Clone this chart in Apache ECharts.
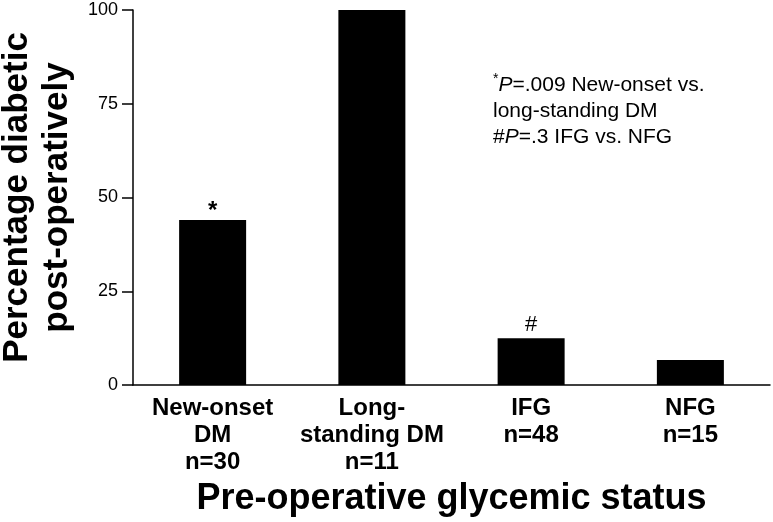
<!DOCTYPE html>
<html>
<head>
<meta charset="utf-8">
<script src="https://cdn.jsdelivr.net/npm/echarts@6/dist/echarts.min.js"></script>
<style>html,body{margin:0;padding:0;background:#fff}#c{width:773px;height:522px}</style>
</head>
<body>
<div id="c"></div>
<script>
var categories = ['New-onset\nDM\nn=30', 'Long-\nstanding DM\nn=11', 'IFG\nn=48', 'NFG\nn=15'];
var percentDiabetic = [44, 100, 12.5, 6.7];
var markers = ['*', '', '#', ''];
var yTicks = [0, 25, 50, 75, 100];
var FONT = "'Liberation Sans', Arial, Helvetica, sans-serif";

var barData = percentDiabetic.map(function (v, i) {
  return {
    value: v,
    label: markers[i] === '*' ? { distance: -3, fontSize: 24, fontWeight: 'bold' } : {}
  };
});

var chart = echarts.init(document.getElementById('c'));
chart.setOption({
  animation: false,
  backgroundColor: '#fff',
  grid: { left: 133, right: 3, top: 10, bottom: 137, containLabel: false, outerBoundsMode: 'none' },
  xAxis: {
    type: 'category',
    data: categories,
    axisLine: { lineStyle: { color: '#000', width: 1.5 } },
    axisTick: { show: false },
    axisLabel: {
      margin: 10, color: '#000', fontFamily: FONT, fontWeight: 'bold',
      fontSize: 24, lineHeight: 27, interval: 0
    },
    name: 'Pre-operative glycemic status',
    nameLocation: 'middle',
    nameGap: 92,
    nameTextStyle: { color: '#000', fontFamily: FONT, fontWeight: 'bold', fontSize: 36 }
  },
  yAxis: {
    type: 'value',
    min: 0, max: 100, interval: 25,
    axisLine: { show: true, lineStyle: { color: '#000', width: 1.5 } },
    axisTick: { show: true, length: 11, lineStyle: { color: '#000', width: 1.5 } },
    splitLine: { show: false },
    axisLabel: {
      margin: 15, color: '#000', fontFamily: FONT, fontSize: 18,
      formatter: function (v) { return yTicks.indexOf(v) >= 0 ? String(v) : ''; }
    },
    name: 'Percentage diabetic\npost-operatively',
    nameLocation: 'middle',
    nameGap: 56,
    nameTextStyle: { color: '#000', fontFamily: FONT, fontWeight: 'bold', fontSize: 35, lineHeight: 40 }
  },
  series: [{
    type: 'bar',
    data: barData,
    barWidth: 67,
    itemStyle: { color: '#000' },
    label: {
      show: true, position: 'top', distance: 2,
      color: '#000', fontFamily: FONT, fontSize: 22,
      formatter: function (p) { return markers[p.dataIndex]; }
    }
  }],
  graphic: [{
    type: 'text',
    left: 493, top: 72,
    style: {
      text: '{sup|*}{it|P}=.009 New-onset vs.\nlong-standing DM\n#{it|P}=.3 IFG vs. NFG',
      fontFamily: FONT, fontSize: 21, lineHeight: 26, fill: '#000',
      rich: {
        sup: { fontFamily: FONT, fontSize: 14, verticalAlign: 'top', lineHeight: 26 },
        it: { fontFamily: FONT, fontSize: 21, fontStyle: 'italic', lineHeight: 26 }
      }
    }
  }]
});
</script>
</body>
</html>
